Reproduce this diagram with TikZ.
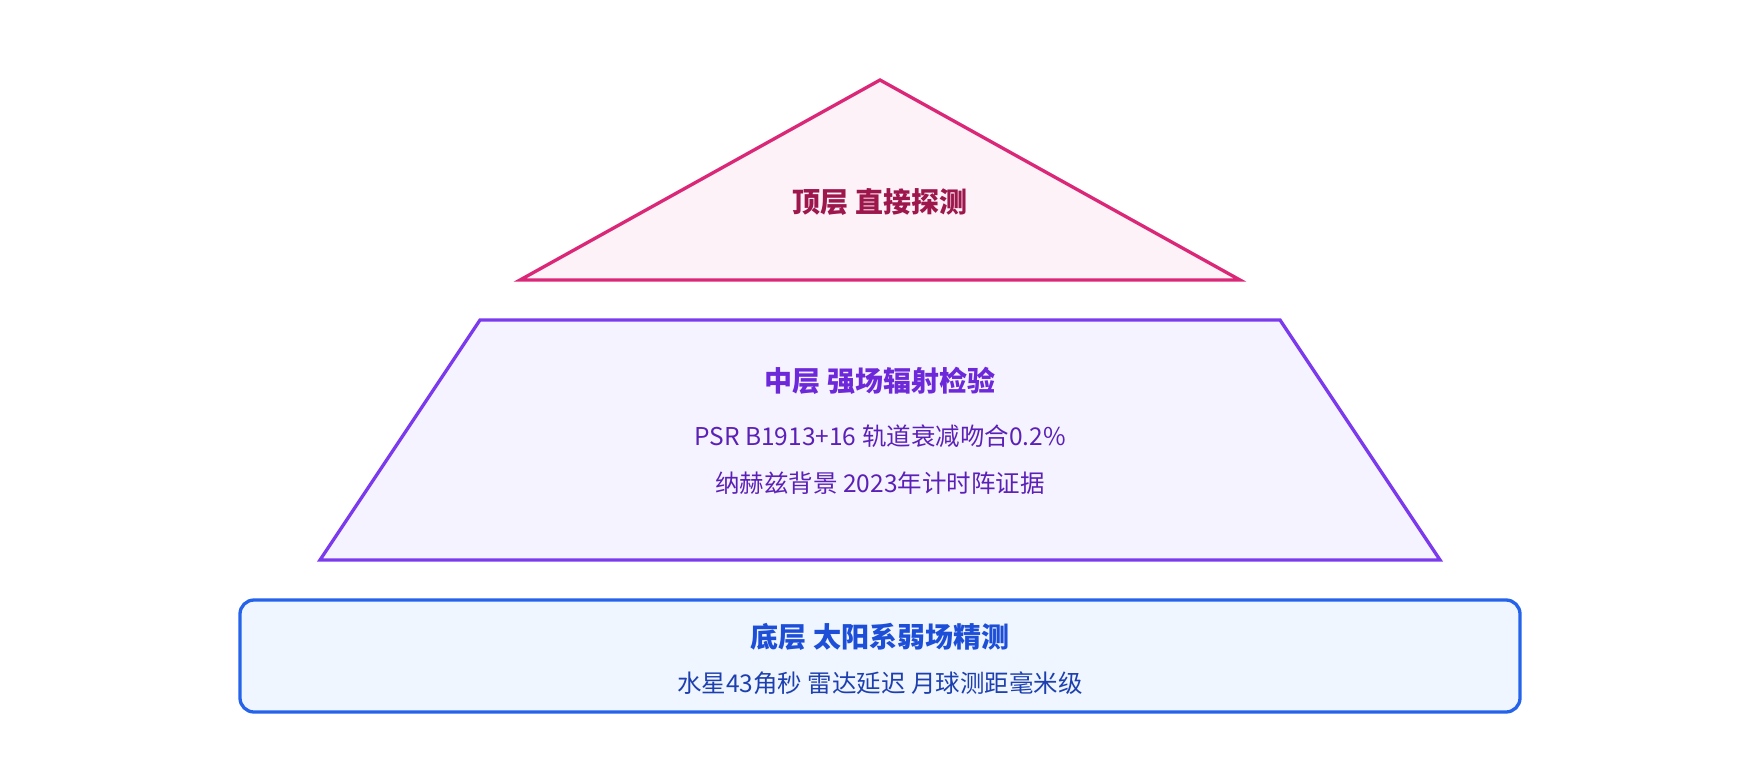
\documentclass[tikz,border=0pt]{standalone}
\usepackage{fontspec}
\setmainfont{Noto Sans CJK SC}
\definecolor{pinkS}{HTML}{DB2777}
\definecolor{pinkF}{HTML}{FDF2F8}
\definecolor{pinkT}{HTML}{9D174D}
\definecolor{purS}{HTML}{7C3AED}
\definecolor{purF}{HTML}{F5F3FF}
\definecolor{purT}{HTML}{6D28D9}
\definecolor{purU}{HTML}{5B21B6}
\definecolor{bluS}{HTML}{2563EB}
\definecolor{bluF}{HTML}{EFF6FF}
\definecolor{bluT}{HTML}{1D4ED8}
\definecolor{bluU}{HTML}{1E40AF}
\begin{document}
\begin{tikzpicture}[x=1pt,y=-1pt,
  layer/.style={line width=3.3pt,line join=miter},
  title/.style={font=\fontsize{28}{32}\selectfont\bfseries,inner sep=0pt},
  sub/.style={font=\fontsize{24.5}{28}\selectfont,inner sep=0pt}]
\useasboundingbox (0,0) rectangle (1760,760);
% top triangle
\draw[layer,draw=pinkS,fill=pinkF] (880,80) -- (1240,280) -- (520,280) -- cycle;
\node[title,text=pinkT] (toptitle) at (880,202) {顶层 直接探测};
% middle trapezoid
\draw[layer,draw=purS,fill=purF] (480,320) -- (1280,320) -- (1440,560) -- (320,560) -- cycle;
\node[title,text=purT] (midtitle) at (880,381) {中层 强场辐射检验};
\node[sub,text=purU] (mid1) at (880,436) {PSR B1913+16 轨道衰减吻合0.2\%};
\node[sub,text=purU] (mid2) at (880,483) {纳赫兹背景 2023年计时阵证据};
% bottom rounded rectangle
\draw[layer,draw=bluS,fill=bluF,rounded corners=14pt] (240,600) rectangle (1520,712);
\node[title,text=bluT] (bottitle) at (880,637) {底层 太阳系弱场精测};
\node[sub,text=bluU] (bot1) at (880,683) {水星43角秒 雷达延迟 月球测距毫米级};
\end{tikzpicture}
\end{document}
